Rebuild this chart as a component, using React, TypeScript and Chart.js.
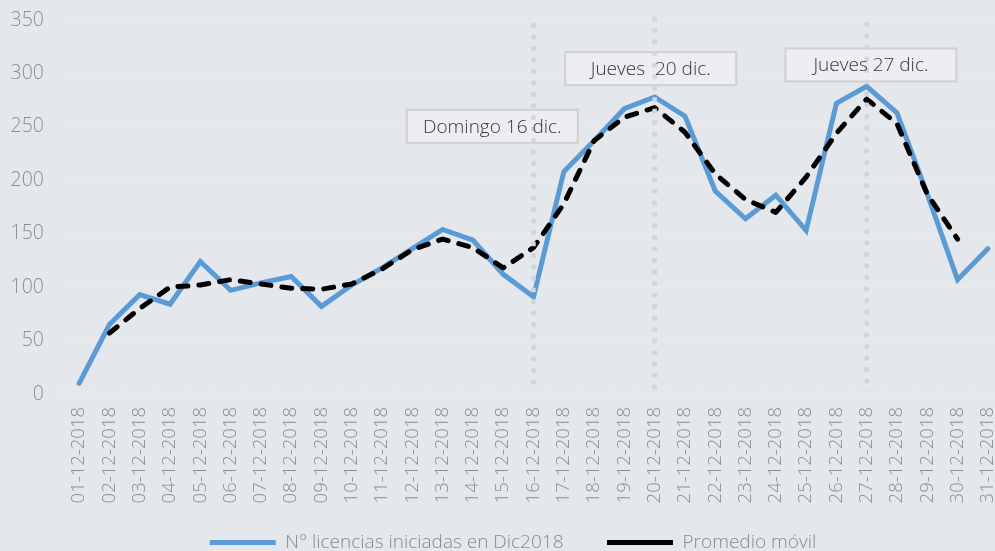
import React, { useEffect, useRef } from "react";
import { Chart, registerables } from "chart.js";

Chart.register(...registerables);

// ---------- data ----------
const DAY_LABELS = [
  "01-12-2018", "02-12-2018", "03-12-2018", "04-12-2018", "05-12-2018", "06-12-2018",
  "07-12-2018", "08-12-2018", "09-12-2018", "10-12-2018", "11-12-2018", "12-12-2018",
  "13-12-2018", "14-12-2018", "15-12-2018", "16-12-2018", "17-12-2018", "18-12-2018",
  "19-12-2018", "20-12-2018", "21-12-2018", "22-12-2018", "23-12-2018", "24-12-2018",
  "25-12-2018", "26-12-2018", "27-12-2018", "28-12-2018", "29-12-2018", "30-12-2018",
  "31-12-2018",
];

const LICENCIAS = [
  10, 65, 93, 84, 124, 97, 104, 110, 82, 102, 118, 136, 154, 144, 112, 91,
  208, 237, 267, 278, 260, 190, 164, 186, 153, 272, 288, 263, 187, 107, 136,
];

const PROMEDIO = [
  null, 57, 80, 100, 102, 107, 103, 99, 98, 103, 117, 135, 145, 137, 118, 137,
  178, 237, 259, 268, 245, 206, 182, 170, 203, 244, 276, 253, 187, 145, null,
];

const SERIES_NAMES = ["N° licencias iniciadas en Dic2018", "Promedio móvil"];

const Y_MIN = 0;
const Y_MAX = 350;
const Y_STEP = 50;

// vertical dotted marker lines (category + top value)
const MARKED_DAYS = ["16-12-2018", "20-12-2018", "27-12-2018"];
const MARK_TOPS = [347, 353, 348];

// callout notes (text, category position, value position)
const NOTE_TEXTS = ["Domingo 16 dic.", "Jueves  20 dic.", "Jueves 27 dic."];
const NOTE_X = [13.64, 18.87, 26.14];
const NOTE_Y = [250.5, 304.5, 308];

// ---------- styles ----------
const BG = "#e4e7eb";
const GRID = "#ebe9ea";
const TICK_COLOR = "#8e8e8e";
const FONT = "'Open Sans', sans-serif";
const BLUE = "#5b9bd5";
const LEGEND_SHIFT = 11.5;

const decorPlugin = {
  id: "decor",
  afterLayout(chart: any) {
    const lg = chart.legend;
    if (lg) {
      lg.left += LEGEND_SHIFT;
      lg.right += LEGEND_SHIFT;
      // let the rotated x labels use the space beside the legend row
      chart.scales.x.bottom = lg.bottom;
    }
  },
  beforeDraw(chart: any) {
    const { ctx, width, height } = chart;
    ctx.save();
    ctx.fillStyle = BG;
    ctx.fillRect(0, 0, width, height);
    ctx.restore();
  },
  afterDatasetsDraw(chart: any) {
    const { ctx } = chart;
    const xs = chart.scales.x;
    const ys = chart.scales.y;
    ctx.save();

    // crossing tick marks on x axis
    const axisY = ys.getPixelForValue(0);
    ctx.strokeStyle = GRID;
    ctx.lineWidth = 1.5;
    for (let i = 0; i <= DAY_LABELS.length; i++) {
      const px = xs.getPixelForValue(i - 0.5);
      ctx.beginPath();
      ctx.moveTo(px, axisY - 8);
      ctx.lineTo(px, axisY + 7);
      ctx.stroke();
    }

    // note boxes
    const boxW = 171;
    const boxH = 33;
    const centers = NOTE_TEXTS.map((_, i) => ({
      x: xs.getPixelForValue(NOTE_X[i]),
      y: ys.getPixelForValue(NOTE_Y[i]),
    }));
    centers.forEach((c) => {
      ctx.fillStyle = "#eceef1";
      ctx.fillRect(c.x - boxW / 2, c.y - boxH / 2, boxW, boxH);
      ctx.strokeStyle = "#d0d0d0";
      ctx.lineWidth = 2;
      ctx.strokeRect(c.x - boxW / 2, c.y - boxH / 2, boxW, boxH);
    });

    // dotted marker lines
    ctx.strokeStyle = "#d3d4d7";
    ctx.lineWidth = 4.5;
    ctx.setLineDash([4.5, 7]);
    ctx.lineCap = "butt";
    MARKED_DAYS.forEach((d, i) => {
      const idx = DAY_LABELS.indexOf(d);
      const px = xs.getPixelForValue(idx);
      ctx.beginPath();
      ctx.moveTo(px, ys.getPixelForValue(MARK_TOPS[i]));
      ctx.lineTo(px, ys.getPixelForValue(0) - 3);
      ctx.stroke();
    });
    ctx.setLineDash([]);

    // note texts
    ctx.fillStyle = "#363636";
    ctx.font = `300 19px ${FONT}`;
    ctx.textAlign = "center";
    ctx.textBaseline = "middle";
    centers.forEach((c, i) => {
      ctx.fillText(NOTE_TEXTS[i], c.x, c.y + 1);
    });

    ctx.restore();
  },
};

export default function App() {
  const canvasRef = useRef<HTMLCanvasElement | null>(null);

  useEffect(() => {
    const canvas = canvasRef.current;
    if (!canvas) return;
    const chart = new Chart(canvas, {
      type: "line",
      data: {
        labels: DAY_LABELS,
        datasets: [
          {
            label: SERIES_NAMES[0],
            data: LICENCIAS,
            borderColor: BLUE,
            backgroundColor: BLUE,
            borderWidth: 5,
            borderCapStyle: "round",
            borderJoinStyle: "miter",
            pointRadius: 0,
            pointHoverRadius: 0,
            tension: 0,
            fill: false,
            order: 2,
          },
          {
            label: SERIES_NAMES[1],
            data: PROMEDIO,
            borderColor: "#000000",
            backgroundColor: "#000000",
            borderWidth: 5,
            borderDash: [10, 11],
            borderCapStyle: "round",
            borderJoinStyle: "round",
            pointRadius: 0,
            pointHoverRadius: 0,
            tension: 0,
            fill: false,
            spanGaps: false,
            order: 1,
          },
        ],
      },
      options: {
        responsive: false,
        animation: false,
        devicePixelRatio: 1,
        layout: { padding: { left: 0, right: 7, top: 20, bottom: 0 } },
        plugins: {
          tooltip: { enabled: false },
          legend: {
            display: true,
            position: "bottom",
            labels: {
              usePointStyle: true,
              pointStyle: "line",
              pointStyleWidth: 66,
              padding: 43.5,
              color: "#8a8a8a",
              font: { family: FONT, size: 19, weight: "300" },
              sort: (a: any, b: any) => a.datasetIndex - b.datasetIndex,
            },
          },
        },
        scales: {
          x: {
            type: "category",
            offset: true,
            grid: { display: false, drawTicks: false },
            border: { display: true, color: GRID, width: 2 },
            ticks: {
              autoSkip: false,
              minRotation: 90,
              maxRotation: 90,
              padding: 13,
              color: TICK_COLOR,
              font: { family: FONT, size: 18.5, weight: "300" },
            },
            afterFit: (s: any) => {
              s.height = 95.5;
              s.paddingLeft = 0;
              s.paddingRight = 0;
            },
          },
          y: {
            min: Y_MIN,
            max: Y_MAX,
            grid: { color: GRID, lineWidth: 1.5, drawTicks: false },
            border: { display: false },
            ticks: {
              stepSize: Y_STEP,
              padding: 20,
              color: TICK_COLOR,
              font: { family: FONT, size: 19.5, weight: "300" },
            },
            afterFit: (s: any) => {
              s.width = 64;
              s.paddingTop = 0;
              s.paddingBottom = 0;
            },
          },
        },
      },
      plugins: [decorPlugin],
    } as any);
    return () => chart.destroy();
  }, []);

  return (
    <div
      style={{
        position: "fixed",
        left: 0,
        top: 0,
        width: 995,
        height: 551,
        overflow: "hidden",
        background: BG,
      }}
    >
      <canvas
        ref={canvasRef}
        width={1010}
        height={562}
        style={{ display: "block", width: 1010, height: 562 }}
      />
    </div>
  );
}
